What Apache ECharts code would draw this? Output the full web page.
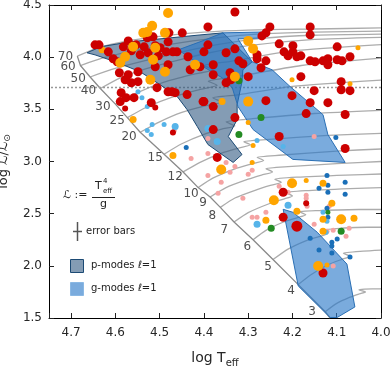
<!DOCTYPE html>
<html>
<head>
<meta charset="utf-8">
<script src="https://cdn.jsdelivr.net/npm/echarts@6/dist/echarts.min.js"></script>
<style>
html, body { margin: 0; padding: 0; background: #fff; }
#chart { width: 390px; height: 366px; }
</style>
</head>
<body>
<div id="chart"></div>
<script>
// 轴刻度
const xTicks = [4.0, 4.1, 4.2, 4.3, 4.4, 4.5, 4.6, 4.7];
const yTicks = [1.5, 2.0, 2.5, 3.0, 3.5, 4.0, 4.5];

// 演化轨迹 (log Teff, log L)
const track70 = [[4.686,4.01],[4.64,4.09],[4.58,4.15],[4.50,4.20],[4.40,4.24],[4.30,4.26],[4.15,4.27],[4.00,4.28]];
const track60 = [[4.679,3.92],[4.63,3.99],[4.56,4.06],[4.48,4.12],[4.38,4.18],[4.28,4.22],[4.15,4.24],[4.00,4.25]];
const track50 = [[4.657,3.81],[4.61,3.88],[4.54,3.96],[4.46,4.04],[4.37,4.12],[4.27,4.18],[4.15,4.21],[4.00,4.22]];
const track40 = [[4.634,3.70],[4.59,3.80],[4.53,3.89],[4.46,3.97],[4.39,4.04],[4.30,4.11],[4.15,4.17],[4.00,4.19]];
const track30 = [[4.600,3.55],[4.55,3.66],[4.49,3.76],[4.43,3.83],[4.38,3.88],[4.40,3.92],[4.34,3.96],[4.20,4.06],[4.00,4.12]];
const track25 = [[4.573,3.42],[4.53,3.52],[4.47,3.62],[4.41,3.69],[4.37,3.73],[4.39,3.77],[4.33,3.81],[4.18,3.92],[4.00,3.99]];
const track20 = [[4.544,3.28],[4.50,3.38],[4.45,3.47],[4.40,3.53],[4.36,3.57],[4.38,3.61],[4.32,3.64],[4.20,3.72],[4.00,3.78]];
const track15 = [[4.490,3.07],[4.45,3.17],[4.40,3.26],[4.36,3.31],[4.33,3.34],[4.35,3.38],[4.29,3.41],[4.15,3.46],[4.00,3.49]];
const track12 = [[4.447,2.90],[4.41,2.99],[4.36,3.08],[4.32,3.13],[4.295,3.16],[4.31,3.19],[4.26,3.21],[4.12,3.25],[4.00,3.27]];
const track10 = [[4.413,2.75],[4.38,2.84],[4.33,2.93],[4.29,2.98],[4.265,3.01],[4.28,3.04],[4.23,3.06],[4.10,3.10],[4.00,3.12]];
const track9  = [[4.386,2.66],[4.35,2.75],[4.30,2.83],[4.27,2.87],[4.245,2.90],[4.26,2.93],[4.21,2.95],[4.10,2.98],[4.00,3.00]];
const track8  = [[4.363,2.56],[4.33,2.65],[4.28,2.73],[4.25,2.77],[4.225,2.80],[4.24,2.83],[4.19,2.85],[4.08,2.87],[4.00,2.88]];
const track7  = [[4.332,2.42],[4.30,2.51],[4.25,2.60],[4.22,2.64],[4.20,2.67],[4.215,2.70],[4.17,2.72],[4.07,2.74],[4.00,2.75]];
const track6  = [[4.289,2.25],[4.26,2.34],[4.22,2.42],[4.19,2.46],[4.17,2.49],[4.185,2.52],[4.14,2.53],[4.05,2.54],[4.00,2.54]];
const track5  = [[4.244,2.06],[4.21,2.16],[4.17,2.24],[4.14,2.28],[4.12,2.31],[4.135,2.34],[4.09,2.36],[4.03,2.37],[4.00,2.37]];
const track4  = [[4.187,1.82],[4.16,1.91],[4.12,2.01],[4.09,2.06],[4.07,2.09],[4.085,2.12],[4.04,2.14],[4.00,2.15]];
const track3  = [[4.126,1.56],[4.10,1.64],[4.07,1.70],[4.05,1.73],[4.035,1.75],[4.05,1.77],[4.02,1.78],[4.00,1.78]];
const tracks = [track70, track60, track50, track40, track30, track25, track20, track15, track12, track10, track9, track8, track7, track6, track5, track4, track3];

// ZAMS
const zams = [[4.686,4.01],[4.679,3.92],[4.657,3.81],[4.634,3.70],[4.600,3.55],[4.573,3.42],[4.544,3.28],[4.490,3.07],[4.447,2.90],[4.413,2.75],[4.386,2.66],[4.363,2.56],[4.332,2.42],[4.289,2.25],[4.244,2.06],[4.187,1.82],[4.126,1.56],[4.115,1.50]];

// 质量标注
const massNames = ['70','60','50','40','30','25','20','15','12','10','9','8','7','6','5','4','3'];
const massLabelT = [4.713,4.707,4.684,4.661,4.628,4.596,4.569,4.510,4.465,4.429,4.402,4.381,4.354,4.302,4.255,4.203,4.156];
const massLabelL = [4.003,3.908,3.793,3.679,3.526,3.392,3.239,3.039,2.848,2.685,2.599,2.475,2.342,2.179,1.988,1.759,1.558];

// 虚线位置
const dottedL = 3.71;

// 不稳定区
const pModes = [[4.664,4.042],[4.634,4.099],[4.567,4.147],[4.476,4.185],[4.409,4.213],[4.357,4.233],[4.341,4.166],[4.291,3.956],[4.312,3.879],[4.314,3.765],[4.325,3.545],[4.325,3.402],[4.345,3.239],[4.314,3.067],[4.334,2.991],[4.391,3.163],[4.415,3.335],[4.438,3.497],[4.460,3.621],[4.499,3.736],[4.544,3.860],[4.600,3.956],[4.646,4.022]];
const gModesHigh = [[4.458,4.070],[4.409,4.147],[4.357,4.233],[4.257,4.242],[4.266,4.185],[4.323,4.175],[4.291,3.956],[4.246,3.879],[4.205,3.717],[4.131,3.449],[4.120,3.258],[4.081,2.991],[4.199,3.020],[4.289,3.306],[4.323,3.526],[4.336,3.707],[4.359,3.803],[4.409,3.927]];
const gModesLow = [[4.221,2.542],[4.199,2.513],[4.144,2.322],[4.077,2.017],[4.059,1.606],[4.099,1.505],[4.115,1.505],[4.187,1.807]];

// 观测星
const redBig = [[4.646,4.118],[4.637,4.118],[4.616,4.051],[4.605,3.985],[4.596,3.956],[4.582,4.099],[4.571,4.156],[4.564,4.061],[4.553,4.118],[4.544,4.023],[4.535,4.099],[4.528,4.185],[4.526,4.042],[4.515,4.195],[4.510,4.109],[4.503,4.013],[4.499,4.090],[4.485,4.051],[4.481,4.147],[4.479,4.233],[4.470,4.051],[4.461,4.051],[4.449,4.233],[4.436,4.004],[4.431,3.879],[4.591,3.851],[4.571,3.832],[4.578,3.784],[4.549,3.860],[4.564,3.755],[4.549,3.765],[4.506,3.708],[4.587,3.660],[4.589,3.574],[4.576,3.612],[4.558,3.612],[4.519,3.564],[4.481,3.669],[4.472,3.669],[4.465,3.660],[4.438,3.641],[4.402,3.574],[4.391,4.290],[4.481,3.927],[4.510,3.908],[4.379,3.306],[4.370,3.039],
  [4.330,4.433],[4.251,4.290],[4.160,4.290],[4.160,4.214],[4.269,4.204],[4.260,4.233],[4.391,4.118],[4.400,4.051],[4.350,4.042],[4.330,4.080],[4.230,4.128],[4.219,4.051],[4.210,4.013],[4.199,4.109],[4.199,4.051],[4.190,4.004],[4.181,4.013],[4.099,4.099],[4.070,4.004],[4.280,4.023],[4.280,3.985],[4.260,3.965],[4.321,3.965],[4.312,3.937],[4.379,3.927],[4.409,3.908],[4.271,3.899],[4.160,3.965],[4.149,3.956],[4.131,3.965],[4.120,3.985],[4.120,3.927],[4.099,3.975],[4.088,3.965],[4.379,3.832],[4.341,3.851],[4.300,3.813],[4.350,3.755],[4.339,3.784],[4.181,3.813],[4.090,3.765],[4.070,3.679],[4.090,3.688],[4.151,3.679],[4.400,3.574],[4.379,3.526],[4.260,3.583],[4.201,3.631],[4.160,3.564],[4.120,3.564],[4.330,3.421],[4.169,3.459],[4.081,3.450],[4.230,3.240],[4.081,3.125],
  [4.221,2.705],[4.221,2.466],[4.131,1.931]];
const redHuge = [[4.190,2.380]];
const redSmall = [[4.578,3.507],[4.510,3.517],[4.470,3.278],[4.169,2.600]];
const orangeBig = [[4.481,4.424],[4.517,4.300],[4.528,4.242],[4.537,4.233],[4.488,4.233],[4.510,4.090],[4.515,3.975],[4.560,4.099],[4.578,4.004],[4.589,3.946],[4.488,3.860],[4.521,3.784],[4.420,3.927],[4.300,4.156],[4.289,4.080],[4.330,3.813],[4.300,3.574],[4.201,2.791],[4.242,2.628],[4.090,2.447],[4.142,1.998],[4.361,2.924]];
const orangeMid = [[4.630,4.070],[4.510,3.994],[4.359,3.574],[4.470,3.058],[4.560,3.402],[4.131,2.791],[4.111,2.600],[4.190,2.523],[4.260,2.437],[4.131,2.447],[4.061,2.456],[4.131,2.332]];
const orangeSmall = [[4.300,3.373],[4.289,3.154],[4.201,3.784],[4.070,3.746],[4.052,4.090],[4.291,2.991],[4.169,2.819],[4.122,2.007]];
const lightBlueMid = [[4.465,3.335],[4.391,3.316],[4.210,2.581],[4.280,2.399],[4.370,3.192]];
const lightBlueSmall = [[4.549,3.669],[4.540,3.612],[4.528,3.526],[4.517,3.354],[4.519,3.259],[4.528,3.297],[4.490,3.354],[4.280,3.201],[4.221,3.144],[4.131,2.514],[4.124,2.323],[4.122,2.428]];
const darkBlue = [[4.440,3.135],[4.102,3.230],[4.122,2.867],[4.081,2.800],[4.140,2.743],[4.120,2.772],[4.120,2.705],[4.081,2.686],[4.122,2.552],[4.120,2.466],[4.160,2.265],[4.099,2.256],[4.111,2.189],[4.140,2.151],[4.111,2.122],[4.070,2.084],[4.111,2.227]];
const greenMid = [[4.321,3.774],[4.271,3.421],[4.321,3.259],[4.248,2.361],[4.090,2.332]];
const greenSmall = [[4.120,2.514]];
const pink = [[4.467,3.297],[4.391,3.220],[4.391,3.077],[4.429,3.029],[4.151,3.240],[4.350,2.991],[4.330,2.953],[4.341,2.896],[4.300,2.877],[4.291,2.915],[4.361,2.800],[4.391,2.867],[4.368,2.695],[4.312,2.647],[4.291,2.466],[4.280,2.466],[4.260,2.514],[4.230,2.762],[4.210,2.705],[4.169,2.676],[4.169,2.647],[4.167,2.571],[4.117,2.571],[4.151,2.399],[4.122,2.332],[4.079,2.284],[4.072,2.361],[4.108,2.342],[4.108,1.998]];

const FONT = 'DejaVu Sans';
const P_FILL = 'rgba(50,90,130,0.6)';
const P_EDGE = '#1c4a74';
const G_FILL = 'rgba(40,120,200,0.62)';
const G_EDGE = '#2a6fb4';

function polygonSeries(pts, fill, stroke) {
    return {
        type: 'custom',
        coordinateSystem: 'cartesian2d',
        data: [[4.3, 3.0]],
        silent: true,
        z: 3,
        renderItem: (params, api) => ({
            type: 'polygon',
            shape: { points: pts.map(p => api.coord(p)) },
            style: { fill: fill, stroke: stroke, lineWidth: 1 }
        })
    };
}

function dots(data, color, size) {
    return {
        type: 'scatter', data: data, symbolSize: size, z: 5, silent: true,
        itemStyle: { color: color, opacity: 1 }
    };
}

const chart = echarts.init(document.getElementById('chart'));

const axisBase = {
    axisLine: { show: true, onZero: false, lineStyle: { color: '#000', width: 1 } },
    axisTick: { show: true, inside: true, length: 5, lineStyle: { color: '#222' } },
    splitLine: { show: false }
};
const fmt = v => Math.abs(v * 10 - Math.round(v * 10)) < 1e-6 ? v.toFixed(1) : '';

chart.setOption({
    animation: false,
    backgroundColor: '#fff',
    grid: { left: 49, right: 9, top: 5, bottom: 48, containLabel: false, outerBoundsMode: 'none' },
    xAxis: [
        Object.assign({}, axisBase, {
            type: 'value', min: 4.0, max: 4.75, interval: 0.1, inverse: true, position: 'bottom',
            axisLabel: { color: '#262626', fontSize: 12, fontFamily: FONT, margin: 9, formatter: fmt },
            name: 'log T{s|eff}', nameLocation: 'middle', nameGap: 31,
            nameTextStyle: { color: '#262626', fontSize: 14, fontFamily: FONT,
                rich: { s: { fontSize: 10, fontFamily: FONT, padding: [9, 0, 0, 0], color: '#262626' } } }
        }),
        Object.assign({}, axisBase, {
            type: 'value', min: 4.0, max: 4.75, interval: 0.1, inverse: true, position: 'top',
            axisLabel: { show: false }
        })
    ],
    yAxis: [
        Object.assign({}, axisBase, {
            type: 'value', min: 1.5, max: 4.5, interval: 0.5, position: 'left',
            axisLabel: { color: '#262626', fontSize: 12, fontFamily: FONT, margin: 7, formatter: v => v.toFixed(1) },
            name: 'log ℒ/ℒ{s|⊙}', nameLocation: 'middle', nameGap: 29, nameRotate: 90,
            nameTextStyle: { color: '#262626', fontSize: 13, fontFamily: FONT,
                rich: { s: { fontSize: 9, fontFamily: FONT, padding: [8, 0, 0, 0], color: '#262626' } } }
        }),
        Object.assign({}, axisBase, {
            type: 'value', min: 1.5, max: 4.5, interval: 0.5, position: 'right',
            axisLabel: { show: false }
        })
    ],
    series: [
        ...tracks.map(t => ({
            type: 'line', data: t, showSymbol: false, smooth: 0.2, silent: true, z: 1,
            lineStyle: { color: '#acacac', width: 1.3 }
        })),
        {
            type: 'line', data: zams, showSymbol: false, silent: true, z: 2,
            lineStyle: { color: '#8a8a8a', width: 1.3 }
        },
        {
            type: 'line', data: [[4.0, dottedL], [4.75, dottedL]], showSymbol: false, silent: true, z: 2,
            lineStyle: { color: '#999', width: 1.5, type: [2, 2] }
        },
        polygonSeries(pModes, P_FILL, P_EDGE),
        polygonSeries(gModesHigh, G_FILL, G_EDGE),
        polygonSeries(gModesLow, G_FILL, G_EDGE),
        dots(pink, '#f5a3a3', 5),
        dots(darkBlue, '#1a6fb8', 5),
        dots(lightBlueSmall, '#56b4e9', 5),
        dots(lightBlueMid, '#56b4e9', 7),
        dots(greenMid, '#238b23', 7),
        dots(greenSmall, '#238b23', 5),
        dots(orangeSmall, '#ffa500', 5),
        dots(orangeMid, '#ffa500', 7),
        dots(redSmall, '#cc0000', 6),
        dots(redBig, '#cc0000', 9),
        dots(redHuge, '#cc0000', 11),
        dots(orangeBig, '#ffa500', 10),
        {
            type: 'scatter', silent: true, z: 6, symbolSize: 1,
            itemStyle: { color: 'rgba(0,0,0,0)' },
            data: massNames.map((n, i) => [massLabelT[i], massLabelL[i], n]),
            label: { show: true, position: 'inside', formatter: p => p.value[2],
                color: '#222', fontSize: 12, fontFamily: FONT }
        }
    ],
    graphic: [
        // 公式
        { type: 'text', left: 63, top: 190, style: { text: 'ℒ :=', fontSize: 11, fontFamily: FONT, fill: '#222' } },
        { type: 'text', left: 95, top: 181, style: { text: 'T', fontSize: 11, fontFamily: FONT, fill: '#222' } },
        { type: 'text', left: 103, top: 178, style: { text: '4', fontSize: 7, fontFamily: FONT, fill: '#222' } },
        { type: 'text', left: 103, top: 188, style: { text: 'eff', fontSize: 7, fontFamily: FONT, fill: '#222' } },
        { type: 'line', shape: { x1: 92, y1: 197.5, x2: 115, y2: 197.5 }, style: { stroke: '#222', lineWidth: 1 } },
        { type: 'text', left: 100, top: 199, style: { text: 'g', fontSize: 11, fontFamily: FONT, fill: '#222' } },
        // 误差棒
        { type: 'line', shape: { x1: 77.5, y1: 222, x2: 77.5, y2: 241 }, style: { stroke: '#555', lineWidth: 1.5 } },
        { type: 'line', shape: { x1: 73, y1: 231.5, x2: 82, y2: 231.5 }, style: { stroke: '#555', lineWidth: 1.5 } },
        { type: 'text', left: 86, top: 226, style: { text: 'error bars', fontSize: 10, fontFamily: FONT, fill: '#222' } },
        // 图例色块
        { type: 'rect', shape: { x: 70.5, y: 259.5, width: 13, height: 13 }, style: { fill: 'rgb(132,156,180)', stroke: P_EDGE, lineWidth: 1 } },
        { type: 'text', left: 91, top: 260, style: { text: 'p-modes ℓ=1', fontSize: 10, fontFamily: FONT, fill: '#222' } },
        { type: 'rect', shape: { x: 70.5, y: 282.5, width: 13, height: 13 }, style: { fill: 'rgb(122,171,221)', stroke: '#8ab8e4', lineWidth: 1 } },
        { type: 'text', left: 91, top: 283, style: { text: 'g-modes ℓ=1', fontSize: 10, fontFamily: FONT, fill: '#222' } }
    ]
});

window.addEventListener('resize', () => chart.resize());
</script>
</body>
</html>
